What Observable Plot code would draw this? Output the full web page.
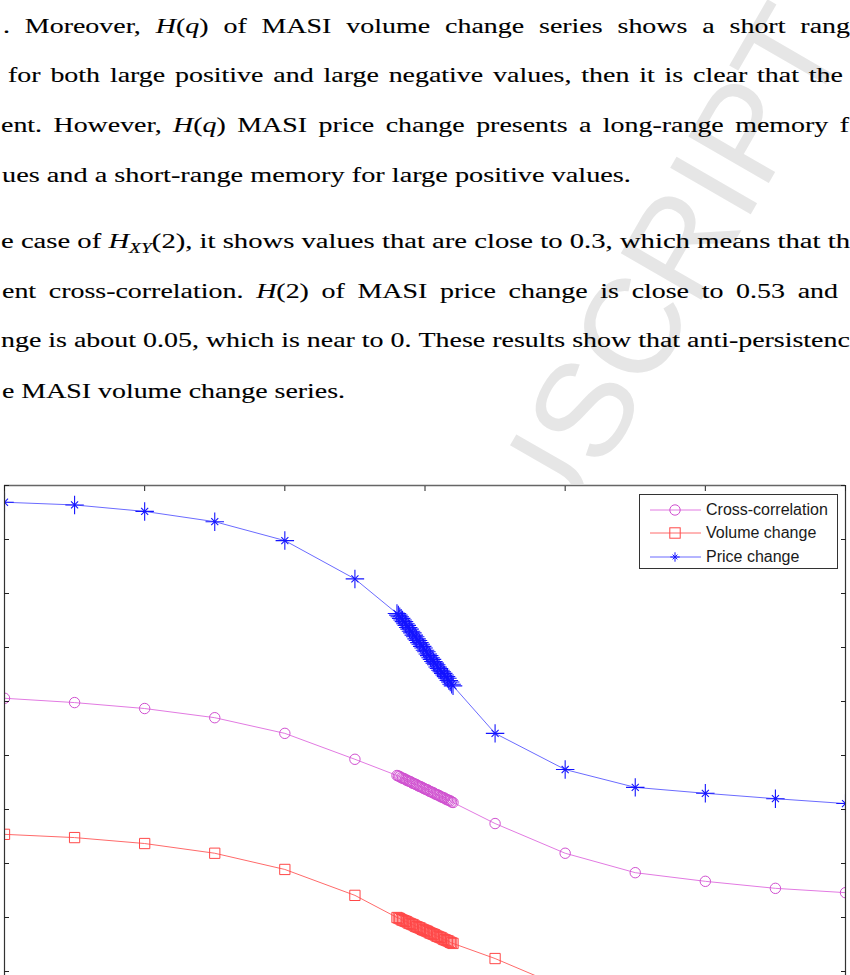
<!DOCTYPE html>
<html><head><meta charset="utf-8">
<script src="https://cdn.jsdelivr.net/npm/d3@7"></script>
<script src="https://cdn.jsdelivr.net/npm/@observablehq/plot@0.6"></script>
<style>
html,body{margin:0;padding:0;width:850px;height:975px;overflow:hidden;background:#fff}
#text{display:block}
#text .pt{font-family:"Liberation Serif","Times New Roman",Times,serif}
#chart{position:relative;width:850px;height:491px;overflow:hidden}
#chart svg{display:block}
.legend{position:absolute;left:639px;top:10px;width:199px;height:75px;box-sizing:border-box;border:1px solid #333;background:#fff;font-family:"Liberation Sans",Arial,sans-serif;font-size:16px;color:#1a1a1a}
.legend .row{position:absolute;left:0;height:20px}
.legend .row svg{position:absolute;left:10px;top:0}
.legend .row span{position:absolute;left:66px;white-space:nowrap;line-height:20px;top:0}
</style></head><body>
<svg id="text" width="850" height="484"></svg>
<div id="chart"></div>
<script>
// ---------- data ----------
const q = [-6,-5,-4,-3,-2,-1,
 -0.4,-0.38,-0.36,-0.34,-0.32,-0.3,-0.28,-0.26,-0.24,-0.22,-0.2,-0.18,-0.16,-0.14,-0.12,-0.1,-0.08,-0.06,-0.04,-0.02,
 0,0.02,0.04,0.06,0.08,0.1,0.12,0.14,0.16,0.18,0.2,0.22,0.24,0.26,0.28,0.3,0.32,0.34,0.36,0.38,0.4,
 1,2,3,4,5,6];
const hPrice = [1.169,1.164,1.152,1.133,1.098,1.027,
 0.963,0.960,0.957,0.954,0.951,0.948,0.944,0.941,0.937,0.934,0.930,0.927,0.923,0.920,0.916,0.913,0.909,0.906,0.902,0.899,
 0.895,0.892,0.888,0.885,0.881,0.878,0.874,0.871,0.868,0.864,0.861,0.858,0.855,0.852,0.849,0.846,0.843,0.839,0.836,0.832,0.829,
 0.741,0.674,0.641,0.630,0.620,0.611];
const hCross = [0.806,0.798,0.787,0.770,0.741,0.693,
 0.663,0.662,0.661,0.659,0.658,0.657,0.656,0.654,0.653,0.652,0.651,0.649,0.648,0.647,0.646,0.644,0.643,0.642,0.641,0.639,
 0.638,0.637,0.636,0.634,0.633,0.632,0.631,0.629,0.628,0.627,0.626,0.624,0.623,0.622,0.621,0.619,0.618,0.617,0.616,0.614,0.613,
 0.574,0.519,0.483,0.467,0.454,0.446];
const hVolume = [0.554,0.548,0.537,0.519,0.489,0.441,
 0.400,0.399,0.398,0.396,0.395,0.394,0.393,0.392,0.390,0.389,0.388,0.387,0.386,0.384,0.383,0.382,0.381,0.380,0.378,0.377,
 0.376,0.375,0.374,0.372,0.371,0.370,0.369,0.368,0.366,0.365,0.364,0.363,0.362,0.360,0.359,0.358,0.357,0.356,0.354,0.353,0.352,
 0.324,0.269,0.233,0.217,0.204,0.196];
const xTicks = [-6,-4,-2,0,2,4,6];
const yTicks = [1.2,1.1,1.0,0.9,0.8,0.7,0.6,0.5,0.4,0.3];
const seriesNames = ["Cross-correlation","Volume change","Price change"];

const paragraphLines = [
 ". Moreover, *H*(*q*) of MASI volume change series shows a short rang",
 "for both large positive and large negative values, then it is clear that the",
 "ent. However, *H*(*q*) MASI price change presents a long-range memory f",
 "ues and a short-range memory for large positive values.",
 "e case of *H*~XY~(2), it shows values that are close to 0.3, which means that th",
 "ent cross-correlation. *H*(2) of MASI price change is close to 0.53 and",
 "nge is about 0.05, which is near to 0. These results show that anti-persistenc",
 "e MASI volume change series."
];
const watermark = "ACCEPTED MANUSCRIPT";

// ---------- text layout ----------
const lineLayout = [
 {b:33,l:3,r:850,mode:"j"},
 {b:82,l:8,r:843,mode:"j"},
 {b:132,l:1,r:849,mode:"j"},
 {b:182,l:2,r:631,mode:"s"},
 {b:248,l:1,r:850,mode:"s"},
 {b:298,l:2,r:838,mode:"j"},
 {b:347,l:1,r:850,mode:"s"},
 {b:398,l:2,r:345,mode:"s"}
];
const FS = 22, SJ = 1.27;
const svgT = d3.select("#text");
svgT.append("rect").attr("width",850).attr("height",484).attr("fill","#fff");
svgT.append("g").attr("transform","translate(543,478) rotate(-60)")
  .append("text").attr("x",530).attr("y",48).attr("text-anchor","end")
  .attr("font-family","Liberation Sans, Arial, sans-serif").attr("font-size",135)
  .attr("fill","#e6e6e6").text(watermark);

function makeWord(g, word){
  const t = g.append("text").attr("class","pt")
    .attr("font-size",FS).attr("fill","#000").attr("stroke","#000").attr("stroke-width",0.12);
  const parts = word.split(/(\*[^*]+\*|~[^~]+~)/g).filter(s=>s.length);
  let pending = 0;
  for (const p of parts){
    let ts;
    if (p[0]==="*") ts = t.append("tspan").attr("font-style","italic").text(p.slice(1,-1));
    else if (p[0]==="~") ts = t.append("tspan").attr("font-style","italic").attr("font-size",FS*0.68).text(p.slice(1,-1));
    else ts = t.append("tspan").text(p);
    if (p[0]==="~"){ ts.attr("dy", 5 + pending); pending = -5; }
    else if (pending){ ts.attr("dy", pending); pending = 0; }
  }
  return t;
}
paragraphLines.forEach((ln,i)=>{
  const L = lineLayout[i];
  const g = svgT.append("g");
  const words = ln.split(" ");
  const els = words.map(w=>makeWord(g,w));
  const widths = els.map(e=>e.node().getComputedTextLength());
  const sumW = d3.sum(widths);
  const target = L.r - L.l;
  let s, gap;
  if (L.mode==="j"){ s = SJ; gap = (target/s - sumW)/(words.length-1); }
  else { gap = 0.25*FS; s = target/(sumW + gap*(words.length-1)); }
  let x = 0;
  els.forEach((e,k)=>{ e.attr("x",x).attr("y",0); x += widths[k] + gap; });
  g.attr("transform",`translate(${L.l},${L.b}) scale(${s},1)`);
});

// ---------- chart ----------
const data = q.map((v,i)=>({q:v, cross:hCross[i], volume:hVolume[i], price:hPrice[i]}));
const colors = {cross:{line:"#e27ae2",mark:"#d050d0"}, volume:{line:"#ff6a6a",mark:"#ff4848"}, price:{line:"#6b6bff",mark:"#1414ff"}};
const chart = Plot.plot({
  width:850, height:491, marginTop:1, marginBottom:0, marginLeft:4, marginRight:5,
  style:{background:"white"},
  x:{domain:[-6,6]},
  y:{domain:[0.2926,1.2]},
  marks:[
    Plot.line(data,{x:"q",y:"volume",stroke:colors.volume.line,strokeWidth:1,clip:true}),
    Plot.dot(data,{x:"q",y:"volume",symbol:"square",r:5.8,stroke:colors.volume.mark,fill:"none",strokeWidth:1,clip:true}),
    Plot.line(data,{x:"q",y:"cross",stroke:colors.cross.line,strokeWidth:1,clip:true}),
    Plot.dot(data,{x:"q",y:"cross",symbol:"circle",r:5.2,stroke:colors.cross.mark,fill:"none",strokeWidth:1,clip:true}),
    Plot.line(data,{x:"q",y:"price",stroke:colors.price.line,strokeWidth:1,clip:true}),
    Plot.dot(data,{x:"q",y:"price",symbol:"plus",r:6,stroke:colors.price.mark,strokeWidth:1.1,clip:true}),
    Plot.dot(data,{x:"q",y:"price",symbol:"times",r:3.3,stroke:colors.price.mark,strokeWidth:1.1,clip:true}),
    Plot.ruleY([1.2],{stroke:"#666",strokeWidth:1.4}),
    Plot.ruleX([-6,6],{stroke:"#333",strokeWidth:1.2}),
    Plot.axisX(xTicks,{anchor:"top",tickSize:-5,tickFormat:()=>"",label:null,stroke:"#222"}),
    Plot.axisY(yTicks,{anchor:"left",tickSize:-5,tickFormat:()=>"",label:null,stroke:"#222"}),
    Plot.axisY(yTicks,{anchor:"right",tickSize:-5,tickFormat:()=>"",label:null,stroke:"#222"})
  ]
});
const host = document.getElementById("chart");
host.appendChild(chart);

// legend
const leg = document.createElement("div");
leg.className = "legend";
const rowTop = [5,28,52];
const sym = [
  '<circle cx="25" cy="10" r="5.2" fill="none" stroke="'+colors.cross.mark+'"/>',
  '<rect x="19.8" y="4.8" width="10.4" height="10.4" fill="none" stroke="'+colors.volume.mark+'"/>',
  '<path d="M25,5.3V14.7M20.3,10H29.7M22.6,7.6L27.4,12.4M22.6,12.4L27.4,7.6" stroke="'+colors.price.mark+'"/>'
];
const lineCol = [colors.cross.line, colors.volume.line, colors.price.line];
seriesNames.forEach((name,i)=>{
  const r = document.createElement("div");
  r.className = "row"; r.style.top = rowTop[i]+"px";
  r.innerHTML = '<svg width="52" height="20"><line x1="0" y1="10" x2="51" y2="10" stroke="'+lineCol[i]+'"/>'+sym[i]+'</svg><span>'+name+'</span>';
  leg.appendChild(r);
});
host.appendChild(leg);
</script>
</body></html>
